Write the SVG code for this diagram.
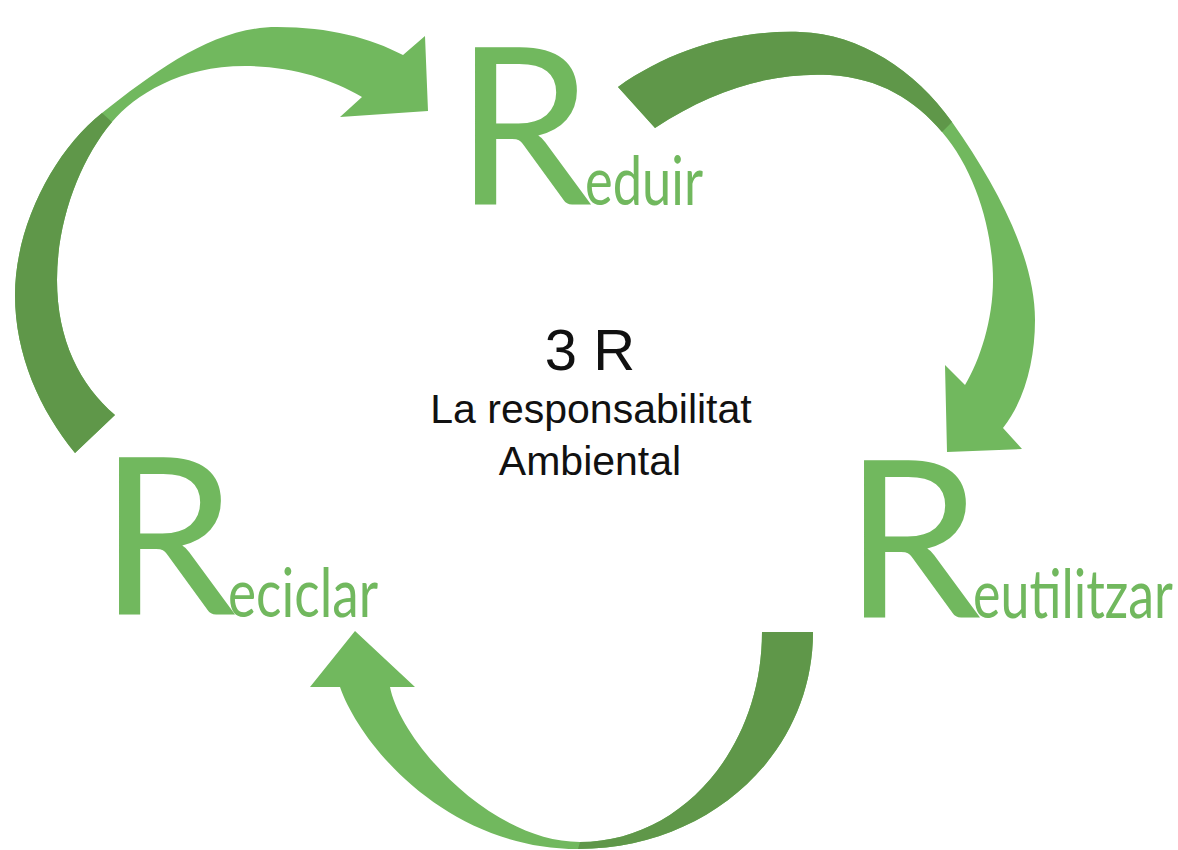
<svg xmlns="http://www.w3.org/2000/svg" width="1178" height="850" viewBox="0 0 1178 850">
<style>
.light{fill:#71B85E}
.dark{fill:#5F9749}
.bigR{font-family:Lato,"Open Sans",sans-serif;font-size:219px;fill:#71B85E}
.sub{font-family:Lato,"Open Sans",sans-serif;font-size:68px;fill:#71B85E}
.ctr{font-family:"Liberation Sans",Arial,sans-serif;fill:#111;text-anchor:middle}
</style>
<rect width="1178" height="850" fill="#fff"/>
<g id="connectors">
  <g id="arrow-reciclar-reduir">
    <path class="light" d="M 75,453 C 40,410 15,355 15,295 C 15,225 55,150 102,113 C 158,69 215,27 277,27 C 330,27 370,38 403,55 L 425,36 L 428,111 L 340,117 L 362,97 C 330,78 290,66 245,66 C 180,66 135,95 112,122 C 80,160 57,220 57,280 C 57,340 80,385 115,415 Z"/>
    <path class="dark" d="M 75,453 C 40,410 15,355 15,295 C 15,225 55,150 102,113 L 112,122 C 80,160 57,220 57,280 C 57,340 80,385 115,415 Z"/>
  </g>
  <g id="arrow-reduir-reutilitzar">
    <path class="light" d="M 618,87 C 670,50 735,30 800,32 C 860,34 915,70 952,122 C 1000,190 1035,260 1035,320 C 1035,360 1025,400 1003,428 L 1022,449 L 947,452 L 945,365 L 965,385 C 980,360 993,320 993,280 C 993,230 975,170 942,132 C 915,100 880,78 830,75 C 775,72 715,88 655,128 Z"/>
    <path class="dark" d="M 618,87 C 670,50 735,30 800,32 C 860,34 915,70 952,122 L 942,132 C 915,100 880,78 830,75 C 775,72 715,88 655,128 Z"/>
  </g>
  <g id="arrow-reutilitzar-reciclar">
    <path class="light" d="M 813,632 C 813,755 708,849 578,849 C 447,849 360,745 340,687 L 310,687 L 355,631 L 415,687 L 390,687 C 400,740 490,842 580,842 C 680,842 762,750 762,632 Z"/>
    <path class="dark" d="M 813,632 C 813,755 708,849 578,849 L 580,842 C 680,842 762,750 762,632 Z"/>
  </g>
</g>
<g id="node-reduir">
  <text class="bigR" x="455" y="205">R</text>
  <text class="sub" x="585" y="205" textLength="118" lengthAdjust="spacingAndGlyphs">eduir</text>
</g>
<g id="node-reciclar">
  <text class="bigR" x="99" y="615">R</text>
  <text class="sub" x="228" y="617" textLength="150" lengthAdjust="spacingAndGlyphs">eciclar</text>
</g>
<g id="node-reutilitzar">
  <text class="bigR" x="844" y="618">R</text>
  <text class="sub" x="973" y="618" textLength="200" lengthAdjust="spacingAndGlyphs">eutilitzar</text>
</g>
<g id="node-center">
  <text class="ctr" x="590" y="370" font-size="58">3 R</text>
  <text class="ctr" x="591" y="423" font-size="41">La responsabilitat</text>
  <text class="ctr" x="590" y="475" font-size="41">Ambiental</text>
</g>
</svg>
